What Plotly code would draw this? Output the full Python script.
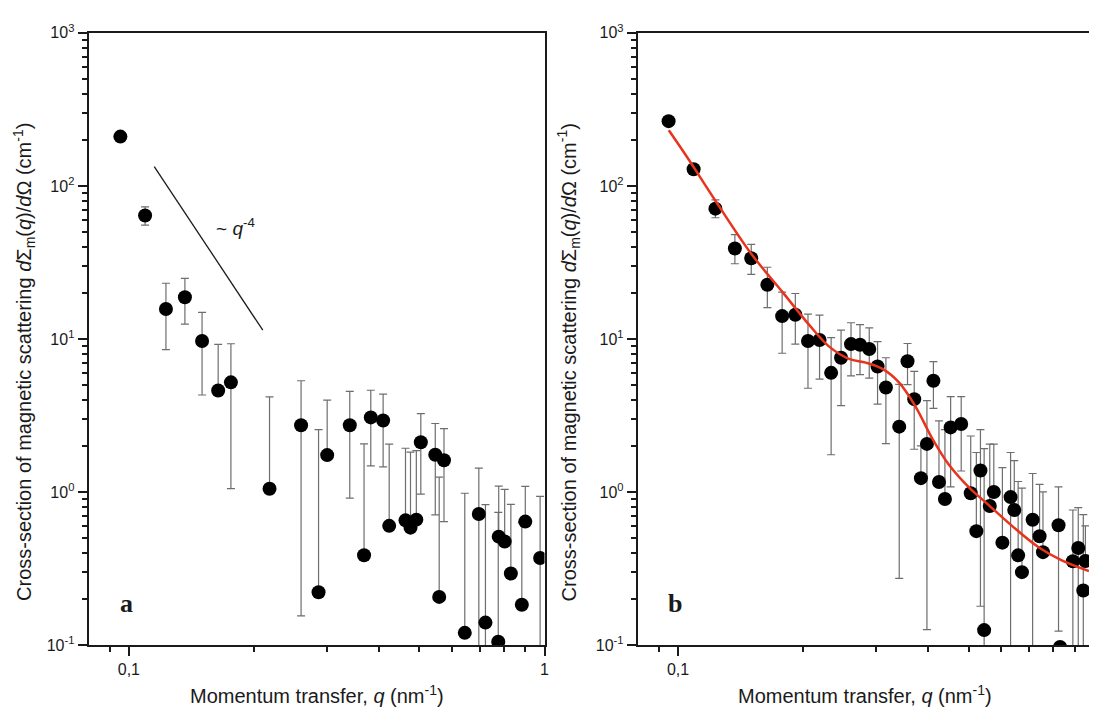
import math
import plotly.graph_objects as go

# ---------------- data: panel a ----------------
q_a = [0.0954, 0.1094, 0.1228, 0.1364, 0.150, 0.164, 0.176, 0.218, 0.2596, 0.286,
       0.300, 0.340, 0.368, 0.382, 0.409, 0.423, 0.463, 0.476, 0.4916, 0.504,
       0.546, 0.558, 0.573, 0.643, 0.695, 0.721, 0.774, 0.776, 0.802, 0.830,
       0.882, 0.899, 0.976]
v_a = [210, 64, 15.7, 18.7, 9.7, 4.6, 5.2, 1.05, 2.73, 0.221,
       1.74, 2.73, 0.386, 3.07, 2.93, 0.60, 0.652, 0.584, 0.659, 2.11,
       1.75, 0.206, 1.61, 0.12, 0.718, 0.14, 0.105, 0.51, 0.474, 0.293,
       0.183, 0.64, 0.37]
hi_a = [210, 73, 23.1, 24.9, 14.9, 9.2, 9.3, 4.18, 5.33, 2.55,
        3.98, 4.54, 2.06, 4.62, 4.36, 2.05, 1.93, 1.82, 1.86, 3.25,
        2.80, 1.25, 2.59, 0.98, 1.43, 0.826, 0.736, 1.09, 1.04, 0.83,
        0.63, 1.087, 0.935]
lo_a = [210, 55.4, 8.5, 12.5, 4.3, 4.6, 1.05, 1.05, 0.155, 0.221,
        1.74, 0.91, 0.386, 1.48, 1.46, 0.60, 0.652, 0.584, 0.659, 0.967,
        0.708, 0.206, 0.64, 0.12, 0.01, 0.01, 0.01, 0.51, 0.474, 0.293,
        0.183, 0.64, 0.01]

# guide line ~ q^-4
guide_q = [0.1151, 0.210]
guide_v = [133.8, 11.4]

# ---------------- data: panel b ----------------
q_b = [0.0949, 0.109, 0.123, 0.137, 0.150, 0.164, 0.178, 0.1915, 0.2054, 0.219,
       0.2335, 0.2467, 0.2607, 0.274, 0.2884, 0.302, 0.3163, 0.3405, 0.3565, 0.370,
       0.384, 0.397, 0.4115, 0.4244, 0.4386, 0.4527, 0.480, 0.506, 0.522, 0.534,
       0.545, 0.5623, 0.575, 0.603, 0.631, 0.644, 0.658, 0.672, 0.713, 0.741,
       0.755, 0.823, 0.830, 0.891, 0.918, 0.944, 0.955]
v_b = [265, 128.6, 71, 39, 33.7, 22.6, 14.1, 14.4, 9.7, 9.84,
       6.0, 7.53, 9.25, 9.16, 8.6, 6.6, 4.81, 2.67, 7.15, 4.04,
       1.23, 2.06, 5.33, 1.16, 0.90, 2.64, 2.78, 0.98, 0.554, 1.38,
       0.125, 0.81, 1.0, 0.466, 0.925, 0.762, 0.385, 0.299, 0.658, 0.513,
       0.404, 0.605, 0.097, 0.352, 0.43, 0.227, 0.354]
hi_b = [265, 128.6, 81, 48.1, 41.5, 29.4, 20.2, 19.8, 14.5, 14.3,
        10.2, 11.4, 12.75, 12.4, 11.8, 9.6, 7.53, 5.05, 9.33, 6.14,
        2.0, 3.95, 7.1, 2.91, 2.55, 4.2, 4.2, 2.32, 1.81, 2.55,
        1.92, 2.05, 2.05, 1.44, 1.81, 1.6, 1.17, 1.06, 1.32, 1.12,
        1.0, 1.08, 0.097, 0.762, 0.79, 0.71, 0.6]
lo_b = [265, 128.6, 61.9, 31, 26.4, 16.0, 8.06, 9.25, 4.76, 5.46,
        1.75, 3.66, 5.74, 5.85, 5.54, 3.75, 2.07, 0.272, 5.03, 1.9,
        1.23, 0.126, 3.52, 1.16, 0.90, 1.08, 1.37, 0.98, 0.554, 0.179,
        0.01, 0.81, 1.0, 0.466, 0.01, 0.762, 0.385, 0.299, 0.01, 0.513,
        0.404, 0.123, 0.097, 0.01, 0.01, 0.01, 0.354]

# fitted curve (panel b)
fit_q = [0.095, 0.105, 0.123, 0.150, 0.179, 0.207, 0.231, 0.258, 0.283, 0.311,
         0.340, 0.373, 0.409, 0.448, 0.501, 0.559, 0.636, 0.737, 0.838, 0.974]
fit_v = [231, 155, 80, 36, 20, 12.3, 8.9, 7.4, 7.0, 6.35,
         5.2, 3.6, 2.23, 1.51, 1.07, 0.82, 0.60, 0.435, 0.357, 0.304]

# ticks
x_major = [0.1, 1]
x_major_text = ["0,1", "1"]
x_minor = [0.09, 0.2, 0.3, 0.4, 0.5, 0.6, 0.7, 0.8, 0.9]
y_major = [0.1, 1, 10, 100, 1000]
y_major_text = ["10<sup>-1</sup>", "10<sup>0</sup>", "10<sup>1</sup>", "10<sup>2</sup>", "10<sup>3</sup>"]
y_minor = [m * d for d in [0.1, 1, 10, 100] for m in range(2, 10)]

ytitle = "Cross-section of magnetic scattering <i>d</i>Σ<sub>m</sub>(<i>q</i>)/<i>d</i>Ω (cm<sup>-1</sup>)"
xtitle = "Momentum transfer, <i>q</i> (nm<sup>-1</sup>)"

W, H = 1094, 722
FONT = "Liberation Sans, Arial, sans-serif"
INK = "#1a1a1a"
ERR = "#6e6e6e"


def errs(v, hi, lo):
    return [h - x for x, h in zip(v, hi)], [x - l for x, l in zip(v, lo)]


fig = go.Figure()

pa, ma = errs(v_a, hi_a, lo_a)
fig.add_trace(go.Scatter(
    x=q_a, y=v_a, mode="markers", xaxis="x", yaxis="y",
    marker=dict(size=14, color="black"),
    error_y=dict(type="data", symmetric=False, array=pa, arrayminus=ma,
                 color=ERR, thickness=1.2, width=4),
    showlegend=False))
fig.add_trace(go.Scatter(
    x=guide_q, y=guide_v, mode="lines", xaxis="x", yaxis="y",
    line=dict(color=INK, width=1.3), showlegend=False))

pb, mb = errs(v_b, hi_b, lo_b)
fig.add_trace(go.Scatter(
    x=q_b, y=v_b, mode="markers", xaxis="x2", yaxis="y2",
    marker=dict(size=14, color="black"),
    error_y=dict(type="data", symmetric=False, array=pb, arrayminus=mb,
                 color=ERR, thickness=1.2, width=4),
    showlegend=False))
fig.add_trace(go.Scatter(
    x=fit_q, y=fit_v, mode="lines", xaxis="x2", yaxis="y2",
    line=dict(color="#e8341c", width=2.5, shape="spline", smoothing=1.0),
    showlegend=False))

ydom = [1 - 652 / H, 1 - 22.5 / H]
xa_common = dict(
    type="log", showgrid=False, zeroline=False, showline=True,
    linecolor=INK, linewidth=2, ticks="outside", ticklen=9, tickwidth=1.6,
    tickcolor=INK, tickmode="array", tickvals=x_major, ticktext=x_major_text,
    tickfont=dict(family=FONT, size=16, color=INK),
    minor=dict(ticks="outside", ticklen=5, tickwidth=1.6, tickcolor=INK,
               tickmode="array", tickvals=x_minor, showgrid=False),
    mirror=True,
)
ya_common = dict(
    type="log", range=[-1, 3], domain=ydom, showgrid=False, zeroline=False,
    showline=True, linecolor=INK, linewidth=2, ticks="outside", ticklen=9,
    tickwidth=1.6, tickcolor=INK, tickmode="array", tickvals=y_major,
    ticktext=y_major_text, tickfont=dict(family=FONT, size=16, color=INK),
    minor=dict(ticks="outside", ticklen=5, tickwidth=1.6, tickcolor=INK,
               tickmode="array", tickvals=y_minor, showgrid=False),
)

fig.update_layout(
    width=W, height=H,
    margin=dict(l=0, r=0, t=0, b=0),
    paper_bgcolor="white", plot_bgcolor="white",
    xaxis=dict(xa_common, domain=[89 / W, 547 / W], range=[math.log10(0.08), 0], anchor="y"),
    yaxis=dict(ya_common, anchor="x", mirror=True),
    xaxis2=dict(xa_common, domain=[640.7 / W, 1.0], range=[math.log10(0.08), -0.0113], anchor="y2"),
    yaxis2=dict(ya_common, anchor="x2", mirror=False),
)

ann = [
    dict(x=24 / W, y=1 - 361 / H, text=ytitle, textangle=-90),
    dict(x=571 / W, y=1 - 361 / H, text=ytitle, textangle=-90),
    dict(x=318 / W, y=1 - 703 / H, text=xtitle),
    dict(x=869 / W, y=1 - 703 / H, text=xtitle),
]
for a in ann:
    fig.add_annotation(xref="paper", yref="paper", showarrow=False,
                       xanchor="center", yanchor="middle",
                       font=dict(family=FONT, size=20, color=INK), **a)

fig.add_annotation(xref="paper", yref="paper", x=237 / W, y=1 - 222 / H,
                   text="~ <i>q</i><sup>-4</sup>", showarrow=False,
                   xanchor="center", yanchor="middle",
                   font=dict(family=FONT, size=19, color=INK))
for lab, px in [("a", 127), ("b", 678)]:
    fig.add_annotation(xref="paper", yref="paper", x=px / W, y=1 - 609 / H,
                       text="<b>" + lab + "</b>", showarrow=False,
                       xanchor="center", yanchor="middle",
                       font=dict(family="Liberation Serif, Times New Roman, serif", size=26, color=INK))

fig.write_html("out.html")
